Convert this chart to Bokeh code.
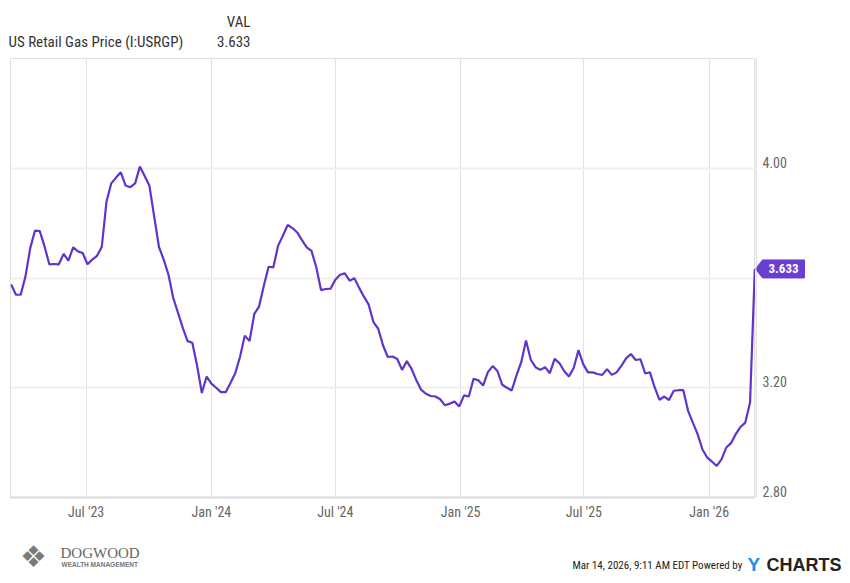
import pandas as pd
from bokeh.plotting import figure
from bokeh.layouts import column, row
from bokeh.models import (FixedTicker, DatetimeTickFormatter, Range1d, Span)
from bokeh.core.properties import value
from bokeh.embed import file_html
from bokeh.resources import INLINE

# ---------------- data ----------------
series_name = "US Retail Gas Price (I:USRGP)"
value_header = "VAL"
start_date = "2023-03-13"   # weekly observations (Mondays)
prices = [
    3.576, 3.539, 3.539, 3.606, 3.709, 3.773, 3.771, 3.715, 3.650, 3.651,
    3.650, 3.688, 3.663, 3.712, 3.697, 3.691, 3.650, 3.667, 3.681, 3.713,
    3.879, 3.945, 3.966, 3.985, 3.937, 3.931, 3.945, 4.006, 3.972, 3.936,
    3.824, 3.713, 3.667, 3.612, 3.527, 3.473, 3.418, 3.370, 3.364, 3.280,
    3.181, 3.241, 3.215, 3.200, 3.184, 3.184, 3.217, 3.253, 3.312, 3.390,
    3.370, 3.469, 3.496, 3.572, 3.641, 3.639, 3.718, 3.754, 3.793, 3.782,
    3.766, 3.738, 3.712, 3.699, 3.639, 3.556, 3.560, 3.561, 3.594, 3.612,
    3.617, 3.590, 3.599, 3.564, 3.532, 3.503, 3.439, 3.415, 3.355, 3.312,
    3.314, 3.305, 3.265, 3.297, 3.269, 3.227, 3.193, 3.178, 3.170, 3.168,
    3.158, 3.136, 3.142, 3.150, 3.132, 3.172, 3.168, 3.233, 3.227, 3.208,
    3.257, 3.279, 3.261, 3.211, 3.200, 3.190, 3.245, 3.293, 3.372, 3.302,
    3.275, 3.265, 3.275, 3.253, 3.305, 3.290, 3.261, 3.241, 3.272, 3.337,
    3.286, 3.256, 3.256, 3.250, 3.247, 3.268, 3.247, 3.256, 3.280, 3.307,
    3.323, 3.301, 3.304, 3.252, 3.256, 3.201, 3.156, 3.168, 3.155, 3.189,
    3.191, 3.191, 3.116, 3.073, 3.031, 2.976, 2.946, 2.931, 2.915, 2.939,
    2.982, 2.998, 3.031, 3.057, 3.073, 3.146, 3.633,
]
x_tick_dates = ["2023-07-01", "2024-01-01", "2024-07-01",
                "2025-01-01", "2025-07-01", "2026-01-01"]
y_tick_values = [2.80, 3.20, 4.00]          # labelled ticks (3.60 hidden by flag)
y_grid_values = [2.80, 3.20, 3.60, 4.00]    # grid lines
x_start, x_end = "2023-03-12", "2026-03-10"
y_start, y_end = 2.80, 4.40
timestamp_text = "Mar 14, 2026, 9:11 AM EDT Powered by"
logo_name, logo_sub = "DOGWOOD", "WEALTH MANAGEMENT"

dates = pd.date_range(start_date, periods=len(prices), freq="7D")
last_value = prices[-1]
last_text = f"{last_value:.3f}"

# ---------------- styling ----------------
NARROW = "'Liberation Sans Narrow', 'Roboto Condensed', Roboto, sans-serif"
LINE_COLOR = "#6034cc"
FLAG_COLOR = "#6a3dd3"
TOTAL_W = 842
HEAD_H, MAIN_H, FOOT_H = 50, 480, 45
MAIN_W = 755
RIGHT_W = TOTAL_W - MAIN_W
TOP_B, BOT_B = 8, 33


def blank(width, height, x_range, y_range, **kw):
    f = figure(width=width, height=height, x_range=x_range, y_range=y_range,
               x_axis_location=None, y_axis_location=None,
               output_backend="svg", toolbar_location=None,
               min_border_left=0, min_border_right=0,
               min_border_top=kw.get("top", 0), min_border_bottom=kw.get("bottom", 0))
    f.grid.visible = False
    f.outline_line_color = None
    f.background_fill_color = "white"
    f.border_fill_color = "white"
    return f


# ---------------- header ----------------
head = blank(TOTAL_W, HEAD_H, Range1d(0, TOTAL_W), Range1d(HEAD_H, 0))
head.text(x=[250], y=[21], text=[value_header], text_align="right",
          text_baseline="middle", text_font=value(NARROW),
          text_font_size="15px", text_color="#333333")
head.text(x=[8], y=[41], text=[series_name], text_align="left",
          text_baseline="middle", text_font=value(NARROW),
          text_font_size="15px", text_color="#333333")
head.text(x=[250], y=[41], text=[last_text], text_align="right",
          text_baseline="middle", text_font=value(NARROW),
          text_font_size="15px", text_color="#333333")

# ---------------- main chart ----------------
yr = Range1d(y_start, y_end)
p = figure(width=MAIN_W, height=MAIN_H, x_axis_type="datetime",
           y_axis_location=None, output_backend="svg", toolbar_location=None,
           x_range=Range1d(pd.Timestamp(x_start), pd.Timestamp(x_end)),
           y_range=yr, min_border_left=10, min_border_right=0,
           min_border_top=TOP_B, min_border_bottom=BOT_B)
p.background_fill_color = "white"
p.border_fill_color = "white"
p.outline_line_color = "#e0e0e0"

x_ticks = [pd.Timestamp(d).value // 10**6 for d in x_tick_dates]
xa = p.xaxis[0]
xa.ticker = FixedTicker(ticks=x_ticks)
fmt = "%b '%y"
xa.formatter = DatetimeTickFormatter(days=fmt, months=fmt, years=fmt)
xa.major_tick_line_color = None
xa.minor_tick_line_color = None
xa.axis_line_color = "#d9d9d9"
xa.axis_line_width = 2
xa.major_label_text_font = NARROW
xa.major_label_text_font_size = "14px"
xa.major_label_text_color = "#666666"
xa.major_label_standoff = 0

p.xgrid.ticker = FixedTicker(ticks=x_ticks)
p.xgrid.grid_line_color = "#e2e2e2"
p.xgrid.grid_line_width = 1
p.ygrid.ticker = FixedTicker(ticks=y_grid_values)
p.ygrid.grid_line_color = "#efefef"
p.ygrid.grid_line_width = 2

p.line(dates, prices, line_color=LINE_COLOR, line_width=2.2)

# ---------------- right value axis + last-value flag ----------------
rt = blank(RIGHT_W, MAIN_H, Range1d(0, RIGHT_W), yr, top=TOP_B, bottom=BOT_B)
rt.add_layout(Span(location=0.5, dimension="height", line_color="#c8c8c8",
                   line_width=1))
rt.text(x=[7] * len(y_tick_values), y=y_tick_values,
        text=[f"{v:.2f}" for v in y_tick_values], text_align="left",
        text_baseline="middle", y_offset=-6, text_font=value(NARROW),
        text_font_size="14px", text_color="#666666")
half = 9.0 * (y_end - y_start) / 439.0
rt.patch(x=[0, 7, 49, 49, 7],
         y=[last_value, last_value + half, last_value + half,
            last_value - half, last_value - half],
         fill_color=FLAG_COLOR, line_color=FLAG_COLOR)
rt.text(x=[28], y=[last_value], text=[last_text], text_align="center",
        text_baseline="middle", text_font=value(NARROW), text_font_size="13px",
        text_font_style="bold", text_color="white")

# ---------------- footer ----------------
y0 = HEAD_H + MAIN_H
foot = blank(TOTAL_W, FOOT_H, Range1d(0, TOTAL_W), Range1d(y0 + FOOT_H, y0))
foot.text(x=[33], y=[556], text=["\u2756"], text_align="center",
          text_baseline="middle", text_font=value("DejaVu Sans"),
          text_font_size="30px", text_color="#7a7a7a")
foot.text(x=[60], y=[552], text=[logo_name], text_align="left",
          text_baseline="middle", text_font=value("Liberation Serif"),
          text_font_size="15px", text_color="#666666")
foot.text(x=[61], y=[564], text=[logo_sub], text_align="left",
          text_baseline="middle", text_font=value("Liberation Sans"),
          text_font_size="6.5px", text_font_style="bold", text_color="#777777")
foot.text(x=[742], y=[565], text=[timestamp_text], text_align="right",
          text_baseline="middle", text_font=value(NARROW),
          text_font_size="11px", text_color="#222222")
foot.text(x=[747], y=[564], text=["Y"], text_align="left",
          text_baseline="middle", text_font=value("Liberation Sans"),
          text_font_size="19px", text_font_style="bold", text_color="#1b8fe6")
foot.text(x=[766], y=[564], text=["CHARTS"], text_align="left",
          text_baseline="middle", text_font=value("Liberation Sans"),
          text_font_size="18px", text_font_style="bold", text_color="#222222")

layout = column(head, row(p, rt), foot)
open("out.html", "w").write(file_html(layout, INLINE))
